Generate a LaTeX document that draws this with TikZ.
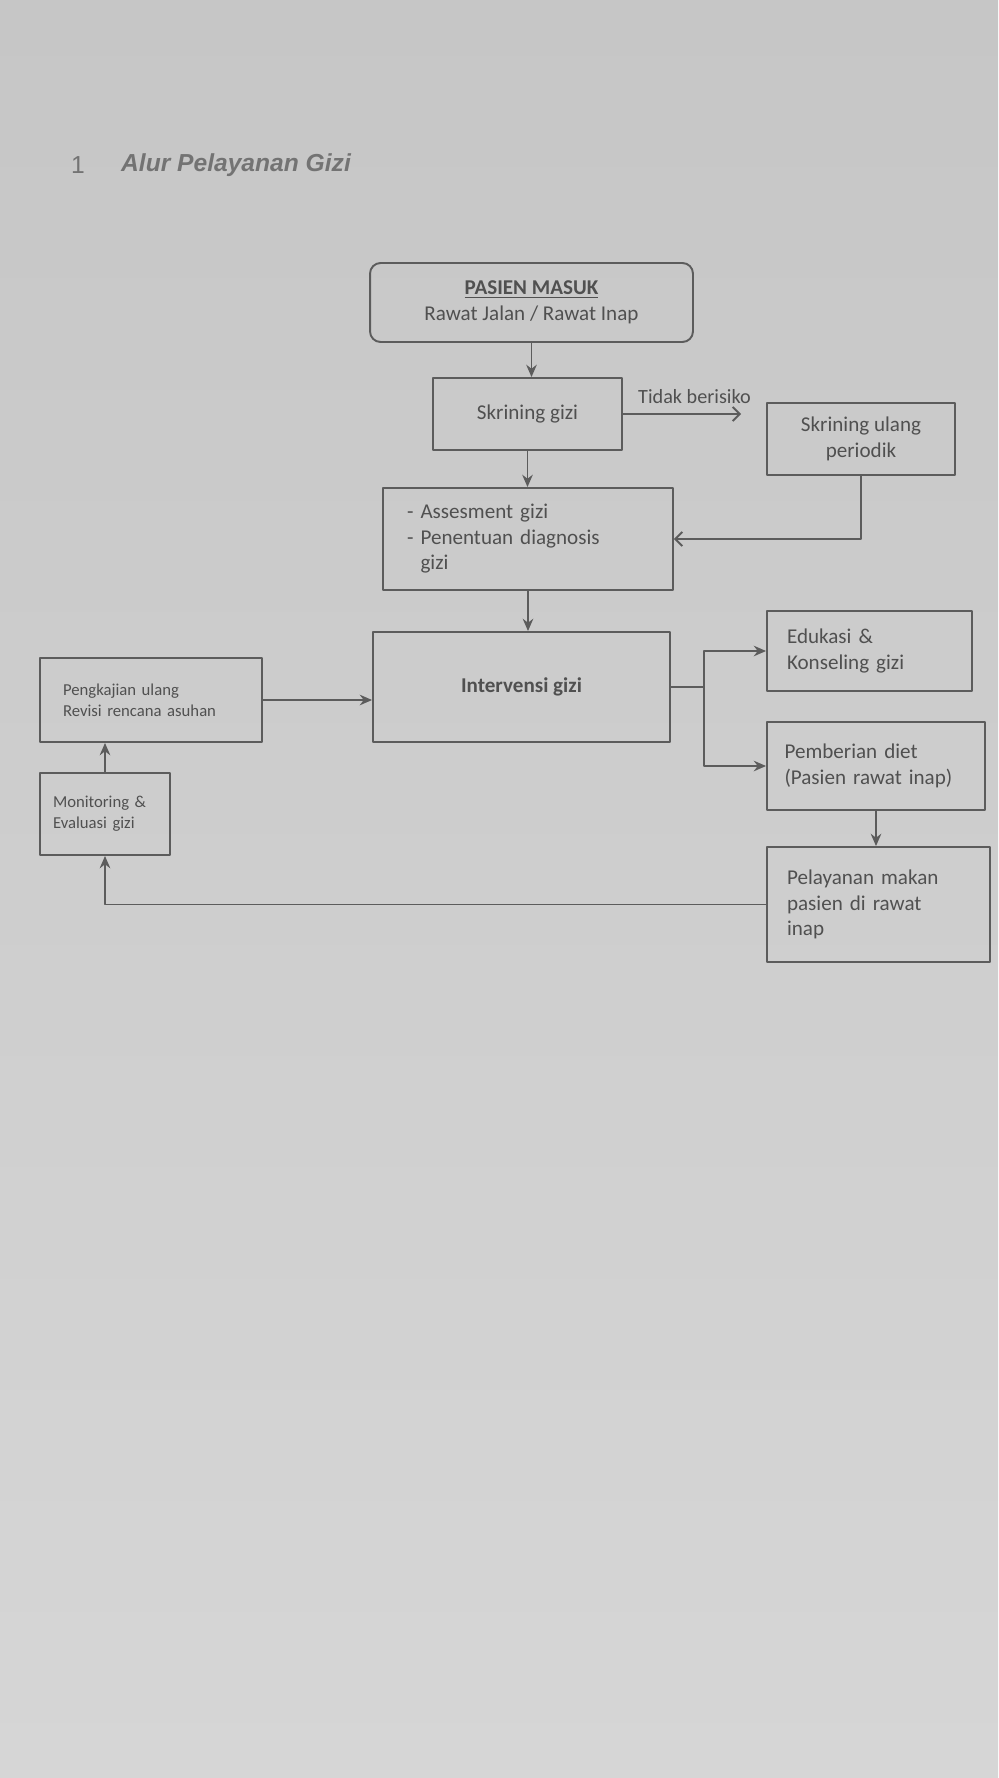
\documentclass[tikz,border=0pt]{standalone}
\usepackage{fontspec}
\setmainfont{Carlito}
\newfontfamily\judulfont{Liberation Sans}
\usetikzlibrary{arrows.meta}

\definecolor{kertasatas}{HTML}{C6C6C6}
\definecolor{kertasbawah}{HTML}{D6D6D6}
\definecolor{garis}{HTML}{5C5C5C}
\definecolor{tinta}{HTML}{505050}

\begin{document}
\begin{tikzpicture}[x=0.02cm, y=-0.02cm, >=stealth, line join=round, line cap=round,
    kotak/.style={draw=garis, line width=1.1pt, text=tinta, font=\fontsize{12}{14.5}\selectfont, align=center},
    kotakkiri/.style={kotak, align=left, inner xsep=0.4cm},
    hubung/.style={draw=garis, line width=1.1pt},
    panah/.style={hubung, -{Stealth[length=7pt,width=6pt]}},
    panahbuka/.style={hubung, -{Straight Barb[length=4pt,width=8pt]}}]

    % latar kertas (ukuran halaman foto)
    \shade[top color=kertasatas, bottom color=kertasbawah] (0,0) rectangle (998,1778);
    \useasboundingbox (0,0) rectangle (998,1778);

    % judul
    \node[text=tinta!80, font=\judulfont\fontsize{14}{16}\selectfont] (nomor) at (78,165) {1};
    \node[anchor=west, text=tinta!80, font=\judulfont\bfseries\itshape\fontsize{14}{16}\selectfont] (judul) at (115,165) {Alur Pelayanan Gizi};

    % alur utama (tengah)
    \node[kotak, rounded corners=6pt, minimum width=6.46cm, minimum height=1.58cm] (pasien) at (531.5,302.5) {\underline{\textbf{PASIEN MASUK}}\\Rawat Jalan / Rawat Inap};
    \node[kotak, minimum width=3.78cm, minimum height=1.44cm] (skrining) at (527.5,414) {Skrining gizi};
    \node[kotak, minimum width=3.76cm, minimum height=1.44cm] (ulang) at (861,439) {Skrining ulang\\periodik};
    \node[kotakkiri, inner xsep=0.48cm, text width=4.84cm, minimum height=2.04cm] (asesmen) at (528,539) {- Assesment gizi\\- Penentuan diagnosis\\\phantom{- }gizi};
    \node[kotak, minimum width=5.94cm, minimum height=2.2cm, font=\fontsize{12}{14.5}\selectfont\bfseries] (intervensi) at (521.5,687) {Intervensi gizi};

    % cabang kanan
    \node[kotakkiri, text width=3.3cm, minimum height=1.6cm] (edukasi) at (869.5,651) {Edukasi \&\\Konseling gizi};
    \node[kotakkiri, inner xsep=0.35cm, text width=3.66cm, minimum height=1.76cm] (diet) at (876,766) {Pemberian diet\\(Pasien rawat inap)};
    \node[kotakkiri, text width=3.66cm, minimum height=2.3cm] (makan) at (878.5,904.5) {Pelayanan makan\\pasien di rawat\\inap};

    % cabang kiri
    \node[kotakkiri, inner xsep=0.46cm, text width=3.52cm, minimum height=1.68cm, font=\fontsize{9.5}{12}\selectfont] (kaji) at (151,700) {Pengkajian ulang\\Revisi rencana asuhan};
    \node[kotakkiri, inner xsep=0.26cm, text width=2.08cm, minimum height=1.64cm, font=\fontsize{9.5}{12}\selectfont] (monev) at (105,814) {Monitoring \&\\Evaluasi gizi};

    % panah
    \draw[panah] (pasien.south) -- (pasien.south |- skrining.north);
    \draw[panahbuka, shorten >=0.5cm] (skrining.east) -- (skrining.east -| ulang.west)
        node[midway, above=2pt, text=tinta, font=\fontsize{11.5}{13}\selectfont] (tidak) {Tidak berisiko};
    \draw[panahbuka] (ulang.south) |- (asesmen.east);
    \draw[panah] (skrining.south) -- (skrining.south |- asesmen.north);
    \draw[panah] (asesmen.south) -- (asesmen.south |- intervensi.north);

    \coordinate (cabang) at ([xshift=0.66cm]intervensi.east);
    \draw[hubung] (intervensi.east) -- (cabang);
    \draw[panah] (cabang) |- (edukasi.west);
    \draw[panah] (cabang) |- (diet.west);
    \draw[panah] (diet.south) -- (diet.south |- makan.north);
    \draw[panah] (makan.west) -| (monev.south);
    \draw[panah] (monev.north) -- (monev.north |- kaji.south);
    \draw[panah] (kaji.east) -- (kaji.east -| intervensi.west);
\end{tikzpicture}
\end{document}
